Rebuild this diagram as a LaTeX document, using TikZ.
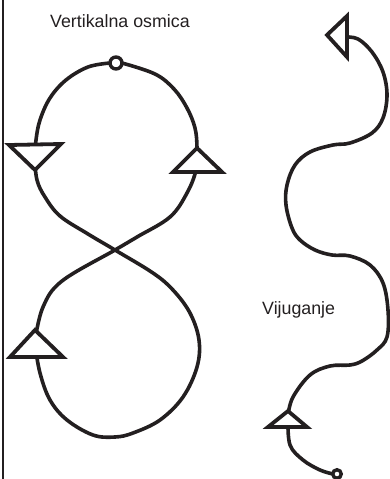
\documentclass[tikz,border=0pt]{standalone}
\usepackage{fontspec}
\setmainfont{Liberation Sans}
\definecolor{ink}{HTML}{231F20}
\begin{document}
\begin{tikzpicture}[x=1pt,y=-1pt,
  track/.style={draw=ink,line width=3.6pt,line cap=round,line join=round},
  arrowtri/.style={draw=ink,fill=white,line width=3.8pt,line join=miter},
  ring/.style={circle,draw=ink,fill=white,line width=3.4pt,inner sep=0pt},
  lbl/.style={anchor=base west,inner sep=0pt,text=ink,font=\fontsize{17.8}{20}\selectfont}]
\useasboundingbox (0,0) rectangle (390,479);
% left border line
\draw[ink,line width=1.8pt] (3.3,0) -- (3.3,479);
% texts
\node[lbl] (t1) at (50,27.5) {Vertikalna osmica};
\node[lbl] (t2) at (262,314) {Vijuganje};
% figure eight
\draw[track] plot[smooth,tension=0.6] coordinates {(110,63) (88,67) (66,80) (50,98) (40,120) (36,140) (35,158) (37,180) (45,197) (60,216) (88,234) (115,250) (153,273) (173,290) (190,313) (199,340) (197,367) (183,397) (160,420) (133,433) (115,437) (93,435) (67,420) (50,400) (40,373) (35,345)};
\draw[track] plot[smooth,tension=0.6] coordinates {(35,340) (43,307) (62,281) (115,250) (137,237) (170,217) (187,193) (196,170) (197,148) (195,128) (187,108) (174,89) (155,74) (122,63)};
\draw[arrowtri] (9,145) -- (61,144) -- (35,170) -- cycle;
\draw[arrowtri] (197,148) -- (173,172) -- (222,172) -- cycle;
\draw[arrowtri] (35,330) -- (10,357) -- (63,357) -- cycle;
\node[ring,minimum size=12pt] (start) at (116,63) {};
% serpentine
\draw[track] plot[smooth,tension=0.6] coordinates {(345,37) (358,39) (372,52) (383,72) (387,95) (383,118) (372,133) (350,143) (333,145) (310,152) (295,165) (287,185) (286,205) (292,228) (300,240) (315,250) (332,255) (350,256) (370,265) (383,283) (388,310) (387,337) (377,350) (362,361) (350,365) (330,366) (310,375) (293,397) (288,415)};
\draw[track] plot[smooth,tension=0.6] coordinates {(288,420) (290,445) (303,460) (320,470) (333,474)};
\draw[arrowtri] (327,35) -- (347,16) -- (347,57) -- cycle;
\draw[arrowtri] (288,411) -- (268,427) -- (307,427) -- cycle;
\node[ring,minimum size=8.5pt] (finish) at (337,474) {};
\end{tikzpicture}
\end{document}
